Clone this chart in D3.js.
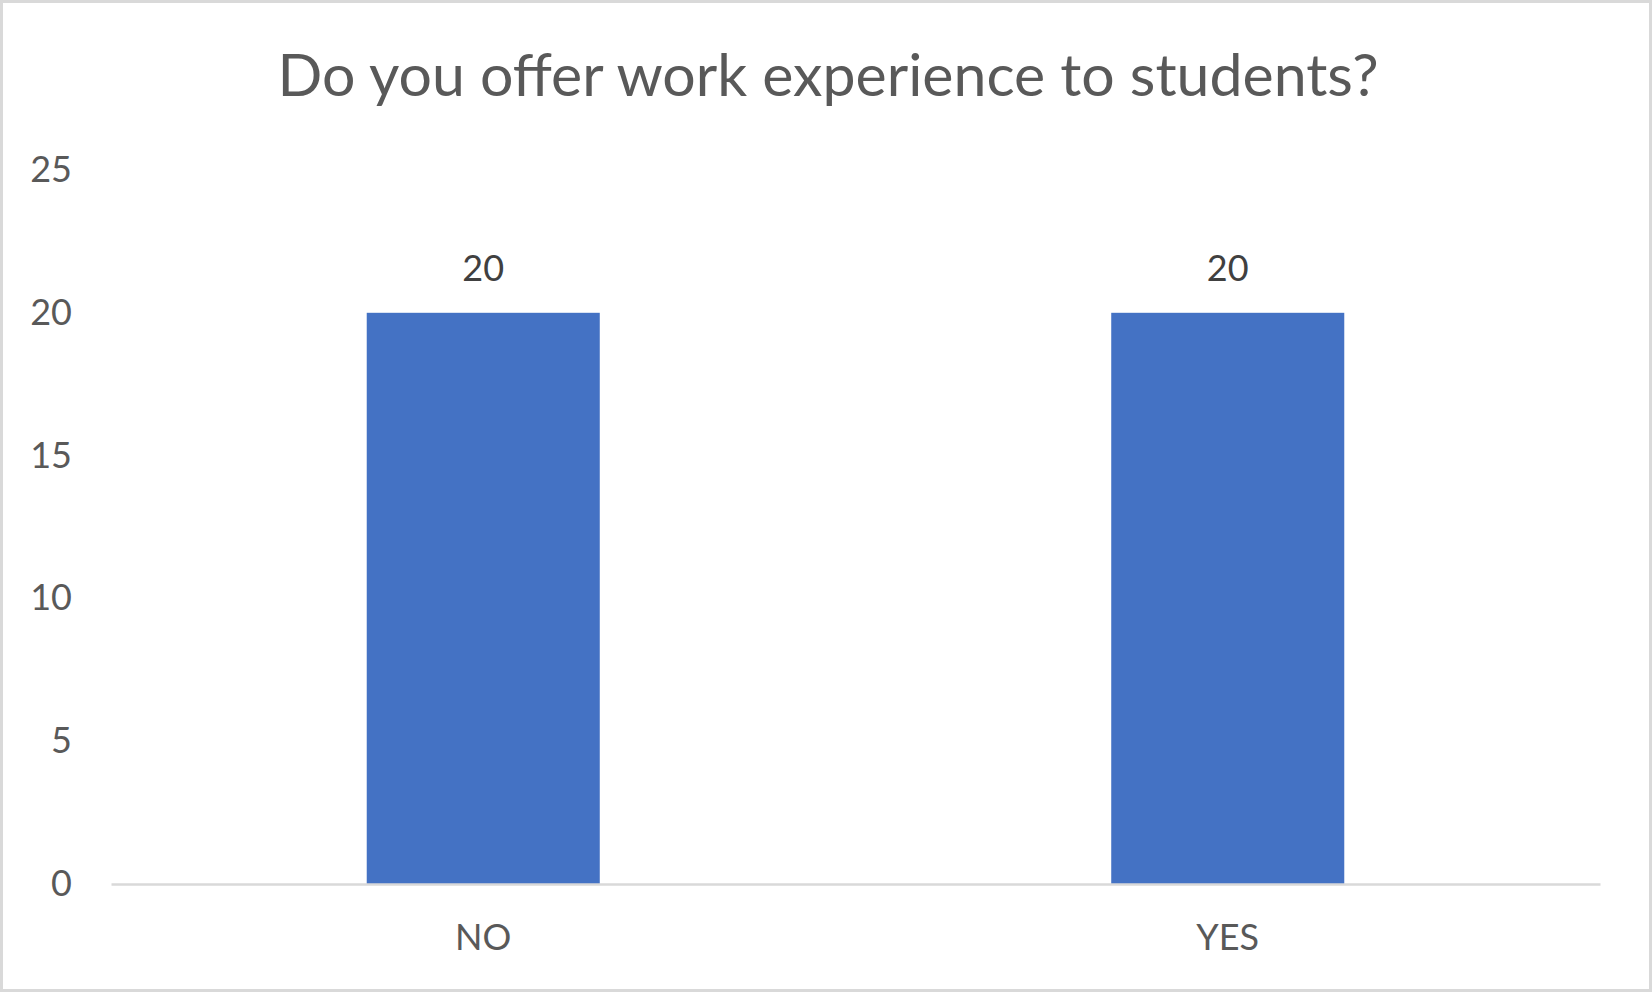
<!DOCTYPE html>
<html>
<head>
<meta charset="utf-8">
<script src="https://cdn.jsdelivr.net/npm/d3@7"></script>
<style>
  html, body { margin: 0; padding: 0; background: #fff; }
  svg { display: block; }
</style>
</head>
<body>
<script>
const titleText = "Do you offer work experience to students?";
const categories = ["NO", "YES"];
const values = [20, 20];
const yTicks = [0, 5, 10, 15, 20, 25];

const W = 1652, H = 992;
const plot = { left: 111, right: 1600, top: 170, bottom: 884 };
const FONT = "Lato, 'Open Sans', sans-serif";

const svg = d3.select("body").append("svg").attr("width", W).attr("height", H);

svg.append("rect").attr("x", 1.5).attr("y", 1.5).attr("width", W - 3).attr("height", H - 3)
  .attr("fill", "#fff").attr("stroke", "#d9d9d9").attr("stroke-width", 3);

const x = d3.scaleBand().domain(categories).range([plot.left, plot.right])
  .paddingInner(0.687).paddingOuter(0.3435);
const y = d3.scaleLinear().domain([0, 25]).range([plot.bottom, plot.top]);

// title
svg.append("text").attr("x", 828).attr("y", 96).attr("text-anchor", "middle")
  .attr("font-family", FONT).attr("font-size", 59).attr("fill", "#595959").text(titleText);

// y axis (labels only)
const yAxis = svg.append("g").attr("transform", `translate(${plot.left},0)`)
  .call(d3.axisLeft(y).tickValues(yTicks).tickSize(0).tickPadding(39));
yAxis.select(".domain").remove();
yAxis.selectAll("text").attr("font-family", FONT).attr("font-size", 36).attr("fill", "#595959");

// bars
svg.append("g").selectAll("rect").data(categories).join("rect")
  .attr("x", d => x(d)).attr("width", x.bandwidth())
  .attr("y", (d, i) => y(values[i])).attr("height", (d, i) => y(0) - y(values[i]))
  .attr("fill", "#4472c4");

// x axis
const xAxis = svg.append("g").attr("transform", `translate(0,${plot.bottom})`)
  .call(d3.axisBottom(x).tickSize(0).tickPadding(40));
xAxis.select(".domain").attr("stroke", "#d9d9d9").attr("stroke-width", 2.5);
xAxis.selectAll("text").attr("font-family", FONT).attr("font-size", 36).attr("fill", "#595959");

// data labels
svg.append("g").selectAll("text").data(categories).join("text")
  .attr("x", d => x(d) + x.bandwidth() / 2)
  .attr("y", (d, i) => y(values[i]) - 32)
  .attr("text-anchor", "middle").attr("font-family", FONT).attr("font-size", 36)
  .attr("fill", "#404040").text((d, i) => values[i]);
</script>
</body>
</html>
